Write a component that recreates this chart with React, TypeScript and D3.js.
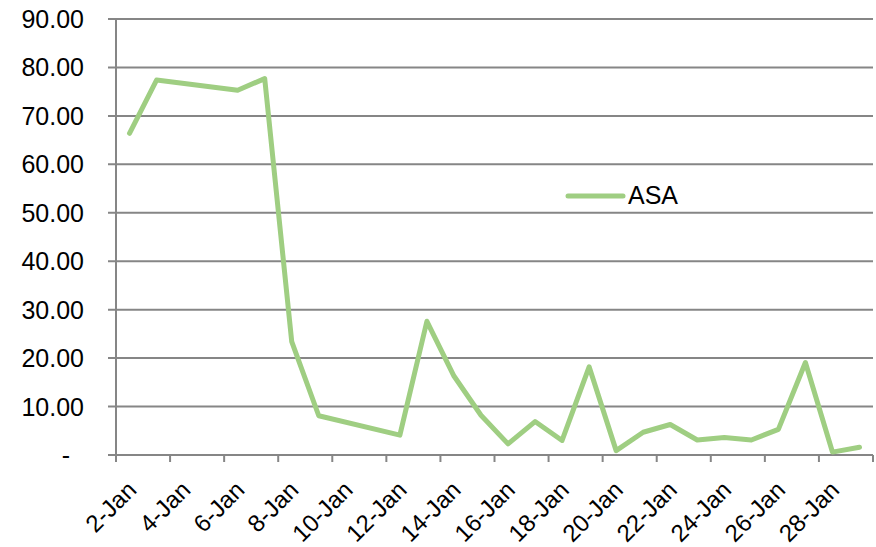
import React from "react";
import * as d3 from "d3";

const dates: string[] = [
  "2013-01-02", "2013-01-03", "2013-01-06", "2013-01-07", "2013-01-08", "2013-01-09",
  "2013-01-12", "2013-01-13", "2013-01-14", "2013-01-15", "2013-01-16", "2013-01-17",
  "2013-01-18", "2013-01-19", "2013-01-20", "2013-01-21", "2013-01-22", "2013-01-23",
  "2013-01-24", "2013-01-25", "2013-01-26", "2013-01-27", "2013-01-28", "2013-01-29",
];
const asaValues: number[] = [
  66.4, 77.4, 75.3, 77.7, 23.4, 8.1,
  4.1, 27.6, 16.3, 8.2, 2.3, 6.9,
  3.0, 18.2, 0.9, 4.7, 6.3, 3.1,
  3.6, 3.1, 5.3, 19.1, 0.6, 1.6,
];
const seriesName = "ASA";
const yTicks: number[] = [0, 10, 20, 30, 40, 50, 60, 70, 80, 90];
const xStart = "2013-01-02";
const xEnd = "2013-01-30";

const W = 876;
const H = 547;
const FONT = "'Liberation Sans', Arial, Helvetica, sans-serif";
const AXIS = "#868686";
const GREEN = "#9fce82";
const DAY = 24 * 3600 * 1000;

const parse = (s: string) => new Date(s + "T00:00:00Z");

export default function App() {
  const x = d3.scaleUtc().domain([parse(xStart), parse(xEnd)]).range([116, 873]);
  const y = d3.scaleLinear().domain([0, 90]).range([455, 19]);

  const pts = dates.map((d, i) => ({ t: new Date(parse(d).getTime() + DAY / 2), v: asaValues[i] }));
  const line = d3
    .line<{ t: Date; v: number }>()
    .x((d) => x(d.t))
    .y((d) => y(d.v));

  const tickDates = d3.utcDay.range(parse(xStart), new Date(parse(xEnd).getTime() + 1), 2);
  const labelDates = tickDates.slice(0, -1);
  const fmt = (d: Date) => `${d.getUTCDate()}-Jan`;

  return (
    <svg
      width={W}
      height={H}
      style={{ position: "absolute", left: 0, top: 0, background: "#fff" }}
      fontFamily={FONT}
    >
      {yTicks.map((t) => (
        <g key={t}>
          <line x1={108} x2={873} y1={y(t)} y2={y(t)} stroke={AXIS} strokeWidth={2} />
          <text
            x={t === 0 ? 70 : 84}
            y={y(t)}
            dy="0.36em"
            textAnchor="end"
            fontSize={25}
            fill="#000"
          >
            {t === 0 ? "-" : t.toFixed(2)}
          </text>
        </g>
      ))}
      <line x1={116} x2={116} y1={y(90)} y2={y(0)} stroke={AXIS} strokeWidth={2} />
      {tickDates.map((d, i) => (
        <line key={i} x1={x(d)} x2={x(d)} y1={y(0)} y2={y(0) + 7} stroke={AXIS} strokeWidth={2} />
      ))}
      {labelDates.map((d, i) => {
        const cx = x(new Date(d.getTime() + DAY / 2)) - 1;
        return (
          <text
            key={i}
            transform={`translate(${cx},482) rotate(-45)`}
            textAnchor="end"
            dy="0.55em"
            fontSize={24}
            fill="#000"
          >
            {fmt(d)}
          </text>
        );
      })}
      <path
        d={line(pts) || ""}
        fill="none"
        stroke={GREEN}
        strokeWidth={5}
        strokeLinejoin="round"
        strokeLinecap="round"
      />
      <line x1={568} x2={623} y1={196} y2={196} stroke={GREEN} strokeWidth={5} strokeLinecap="round" />
      <text x={628} y={203.5} fontSize={25} fill="#000">
        {seriesName}
      </text>
    </svg>
  );
}
